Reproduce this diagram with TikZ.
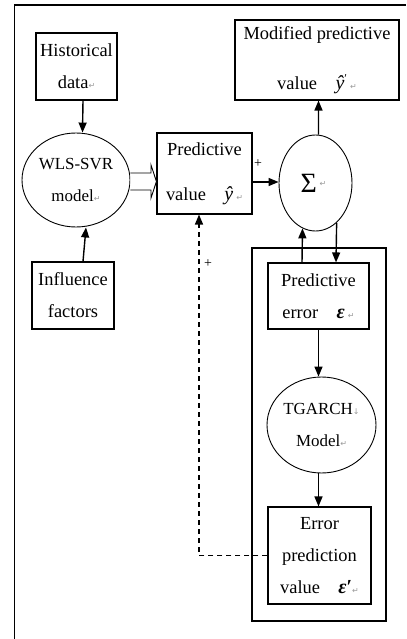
\documentclass[tikz,border=0pt]{standalone}
\usepackage{fontspec}
\setmainfont{Liberation Serif}
\newfontfamily\symfont{DejaVu Sans}
\usetikzlibrary{arrows.meta,shapes.geometric}
\newcommand{\rmark}{{\symfont\fontsize{8}{8}\selectfont\color{black!40}↵}}
\newcommand{\dmark}{{\symfont\fontsize{8}{8}\selectfont\color{black!40}↓}}
\newcommand{\yhat}{{\fontsize{20}{20}\selectfont\itshape ŷ}}
\newcommand{\eps}{{\fontsize{20}{20}\selectfont\bfseries\itshape ε}}
\begin{document}
\begin{tikzpicture}[x=1bp,y=-1bp,
  box/.style={draw, line width=1.1bp, rectangle, inner sep=0pt, align=center,
    font=\fontsize{18.5}{32}\selectfont},
  ell/.style={draw, ellipse, line width=0.9bp, inner sep=0pt, align=center,
    font=\fontsize{17}{32}\selectfont},
  arr/.style={line width=1.4bp, -{Triangle[length=10bp,width=8bp]}},
  dasharr/.style={arr, dash pattern=on 5bp off 4bp},
  lbl/.style={inner sep=0pt, font=\fontsize{14}{14}\selectfont}]
\useasboundingbox (0,0) rectangle (406,639);
% outer frame (partially visible)
\draw[line width=1.4bp] (14.5,639) -- (14.5,5) -- (406,5);
% inner frame
\draw[line width=1.1bp] (252,248) rectangle (386,621);

\node[box, minimum width=81bp, minimum height=67bp] (hist) at (76.5,66.5) {Historical\\data\rmark};
\node[ell, minimum width=108bp, minimum height=94bp] (wls) at (76,180) {WLS-SVR\\model\rmark};
\node[box, minimum width=82bp, minimum height=67bp] (infl) at (73,295.5) {Influence\\factors};
\node[box, minimum width=95bp, minimum height=81bp] (pred) at (204.5,173.5) {Predictive\\[13bp]value\quad\yhat\,\rmark};
\node[ell, minimum width=73bp, minimum height=96bp] (sigma) at (315.5,183) {\hspace*{-4bp}\raisebox{-6bp}{\fontsize{28}{28}\selectfont Σ}\,\rmark};
\node[box, minimum width=164bp, minimum height=80bp] (mod) at (317,60) {Modified predictive\\[18bp]value\quad\yhat\raisebox{7bp}{\fontsize{12}{12}\selectfont ′}\,\rmark};
\node[box, minimum width=101bp, minimum height=66bp] (perr) at (318.5,296) {Predictive\\error\quad\eps\,\rmark};
\node[ell, minimum width=109bp, minimum height=96bp] (tg) at (321.5,425) {TGARCH\dmark\\Model\rmark};
\node[box, minimum width=103bp, minimum height=97bp] (errp) at (319.5,555.5) {Error\\prediction\\value\quad\eps{\fontsize{20}{20}\selectfont\bfseries ′}\rmark};

% connectors
\draw[arr] ([xshift=6.5bp]hist.south) -- ([xshift=6.5bp]wls.north);
\draw[arr] ([xshift=10bp]infl.north) -- ([xshift=10bp]wls.south);
% hollow double arrow
\draw[line width=0.9bp, fill=white]
  (wls.east |- 0,173) -- (151,173) -- (151,165) -- (pred.west |- 0,181.5) -- (151,198) -- (151,190) -- (wls.east |- 0,190);
\draw[arr] (pred.east |- 0,182) -- (sigma.west |- 0,182);
\node[lbl] at (258,164) {+};
\draw[arr] ([xshift=3bp]sigma.north) -- ([xshift=1.5bp]mod.south);
\draw[arr] ([xshift=-16.5bp]perr.north) -- (sigma.254);
\draw[arr] (sigma.298) -- ([xshift=17.5bp]perr.north);
\draw[arr] (perr.south) -- (perr.south |- tg.north);
\draw[arr] (perr.south |- tg.south) -- (perr.south |- errp.north);
\draw[dasharr] (errp.west) -| ([xshift=-5.5bp]pred.south);
\node[lbl] at (208,264) {+};
\end{tikzpicture}
\end{document}
